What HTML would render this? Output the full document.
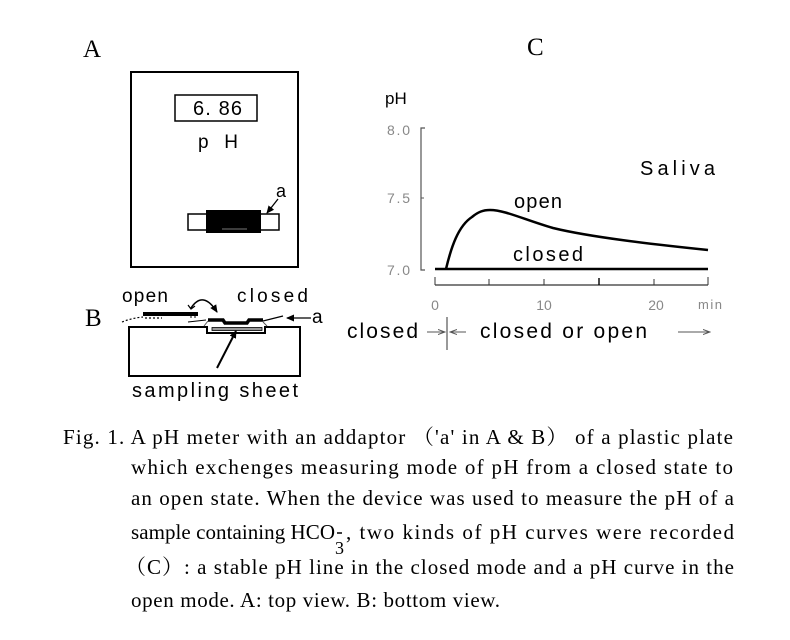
<!DOCTYPE html>
<html>
<head>
<meta charset="utf-8">
<style>
html,body{margin:0;padding:0;background:#fff;}
svg{display:block;}
.sans{font-family:"Liberation Sans","Noto Sans CJK JP",sans-serif;}
.serif{font-family:"Liberation Serif","Noto Serif CJK SC",serif;}
</style>
</head>
<body>
<svg width="790" height="640" viewBox="0 0 790 640" xmlns="http://www.w3.org/2000/svg">
<defs>
  <marker id="ah" markerWidth="8" markerHeight="8" refX="7" refY="4" orient="auto" markerUnits="userSpaceOnUse">
    <path d="M0,0.5 L8,4 L0,7.5 Z" fill="#000"/>
  </marker>
  <marker id="ahg" markerWidth="8" markerHeight="6" refX="7" refY="3" orient="auto" markerUnits="userSpaceOnUse">
    <path d="M0,0.5 L7,3 L0,5.5" fill="none" stroke="#555" stroke-width="1"/>
  </marker>
</defs>
<rect width="790" height="640" fill="#fff"/>

<!-- Panel A -->
<text x="83" y="57" class="serif" font-size="25">A</text>
<rect x="131" y="72" width="167" height="195" fill="none" stroke="#000" stroke-width="2"/>
<rect x="175" y="95" width="82" height="26" fill="none" stroke="#000" stroke-width="1.5"/>
<text x="193" y="115" class="sans" font-size="20" textLength="49" lengthAdjust="spacing">6. 86</text>
<text x="198" y="148" class="sans" font-size="19" textLength="40" lengthAdjust="spacing">p H</text>
<text x="276" y="197" class="sans" font-size="18">a</text>
<line x1="278" y1="199" x2="267" y2="213" stroke="#000" stroke-width="1.3" marker-end="url(#ah)"/>
<rect x="188" y="214" width="91" height="16" fill="#fff" stroke="#000" stroke-width="1.5"/>
<rect x="207" y="211" width="53" height="21" fill="#000" stroke="#000" stroke-width="2"/>
<line x1="222" y1="229" x2="247" y2="229" stroke="#777" stroke-width="1"/>

<!-- Panel B -->
<text x="85" y="326" class="serif" font-size="25">B</text>
<text x="122" y="302" class="sans" font-size="19" textLength="46" lengthAdjust="spacing">open</text>
<text x="237" y="302" class="sans" font-size="19" textLength="71" lengthAdjust="spacing">closed</text>
<path d="M129,327 H207 V333 H265 V327 H300 V376 H129 Z" fill="#fff" stroke="#000" stroke-width="2"/>
<rect x="212" y="327.5" width="50" height="3" fill="#999" stroke="#000" stroke-width="0.8"/>
<!-- closed adaptor -->
<path d="M204,326 L208,321" stroke="#555" stroke-width="1" fill="none"/>
<path d="M208,320 H223 L225,323 H247 L249,320 H263" stroke="#000" stroke-width="3.5" fill="none"/>
<path d="M263,322 L267,326" stroke="#555" stroke-width="1" fill="none"/>
<line x1="263" y1="321" x2="283" y2="316" stroke="#000" stroke-width="1.2"/>
<text x="312" y="323" class="sans" font-size="19">a</text>
<line x1="311" y1="318" x2="287" y2="318" stroke="#000" stroke-width="1.2" marker-end="url(#ah)"/>
<!-- open adaptor -->
<rect x="143" y="312" width="55" height="4" fill="#000"/>
<line x1="145" y1="318" x2="162" y2="318" stroke="#000" stroke-width="1.2" stroke-dasharray="2,2"/>
<path d="M122,322 Q132,318 143,317" stroke="#000" stroke-width="1.2" fill="none" stroke-dasharray="2,2"/>
<line x1="188" y1="322" x2="206" y2="320" stroke="#000" stroke-width="1"/>
<line x1="190" y1="317" x2="196" y2="317" stroke="#000" stroke-width="1" stroke-dasharray="2,2"/>
<!-- curved arrow -->
<path d="M191,308 Q203,290 217,312" stroke="#000" stroke-width="1.5" fill="none" marker-end="url(#ah)"/>
<path d="M188,305 L191,309 L195,306" stroke="#000" stroke-width="1.2" fill="none"/>
<!-- sampling sheet arrow -->
<line x1="217" y1="368" x2="236" y2="331" stroke="#000" stroke-width="2" marker-end="url(#ah)"/>
<text x="132" y="397" class="sans" font-size="20" textLength="166" lengthAdjust="spacing">sampling sheet</text>

<!-- Panel C -->
<text x="527" y="55" class="serif" font-size="25">C</text>
<text x="385" y="104" class="sans" font-size="17">pH</text>
<path d="M425,128 H421 V270 H425" fill="none" stroke="#555" stroke-width="1.2"/>
<line x1="421" y1="198" x2="424" y2="198" stroke="#555" stroke-width="1"/>
<text x="387" y="135" class="sans" font-size="14" fill="#888" textLength="23" lengthAdjust="spacing">8.0</text>
<text x="387" y="203" class="sans" font-size="14" fill="#888" textLength="23" lengthAdjust="spacing">7.5</text>
<text x="387" y="275" class="sans" font-size="14" fill="#888" textLength="23" lengthAdjust="spacing">7.0</text>
<line x1="435" y1="285" x2="708" y2="285" stroke="#333" stroke-width="1.2"/>
<g stroke="#333" stroke-width="1">
  <line x1="435" y1="277" x2="435" y2="285"/>
  <line x1="489" y1="279" x2="489" y2="285"/>
  <line x1="544" y1="279" x2="544" y2="285"/>
  <line x1="599" y1="278" x2="599" y2="285" stroke="#000" stroke-width="1.4"/>
  <line x1="654" y1="279" x2="654" y2="285"/>
  <line x1="708" y1="277" x2="708" y2="285"/>
</g>
<text x="435" y="310" class="sans" font-size="14" fill="#888" text-anchor="middle">0</text>
<text x="544" y="310" class="sans" font-size="14" fill="#888" text-anchor="middle">10</text>
<text x="656" y="310" class="sans" font-size="14" fill="#888" text-anchor="middle">20</text>
<text x="698" y="309" class="sans" font-size="13" fill="#888" textLength="24" lengthAdjust="spacing">min</text>
<line x1="435" y1="269" x2="708" y2="269" stroke="#000" stroke-width="2.5"/>
<path d="M446,269 C451,248 458,226 472,217 C478,212 483,210 490,210 C505,210 525,220 553,228 C590,237 650,244 708,250" fill="none" stroke="#000" stroke-width="2.5"/>
<text x="640" y="175" class="sans" font-size="20" textLength="75" lengthAdjust="spacing">Saliva</text>
<text x="514" y="208" class="sans" font-size="20" textLength="48" lengthAdjust="spacing">open</text>
<text x="513" y="261" class="sans" font-size="20" textLength="70" lengthAdjust="spacing">closed</text>

<!-- bottom row -->
<text x="347" y="338" class="sans" font-size="21" textLength="71" lengthAdjust="spacing">closed</text>
<line x1="427" y1="332" x2="445" y2="332" stroke="#555" stroke-width="1" marker-end="url(#ahg)"/>
<line x1="447" y1="317" x2="447" y2="350" stroke="#333" stroke-width="1"/>
<line x1="466" y1="332" x2="450" y2="332" stroke="#555" stroke-width="1" marker-end="url(#ahg)"/>
<text x="480" y="338" class="sans" font-size="21" textLength="167" lengthAdjust="spacing">closed or open</text>
<line x1="678" y1="332" x2="710" y2="332" stroke="#555" stroke-width="1" marker-end="url(#ahg)"/>

<!-- Caption -->
<g class="serif" font-size="21" fill="#000">
  <text x="63" y="444" textLength="670" lengthAdjust="spacing">Fig. 1. A pH meter with an addaptor （'a' in A &amp; B） of  a  plastic plate</text>
  <text x="131" y="474" textLength="602" lengthAdjust="spacing">which exchenges measuring mode of pH from a closed  state  to</text>
  <text x="131" y="505" textLength="603" lengthAdjust="spacing">an open state. When the device was used to measure the pH of a</text>
  <text x="131" y="539" textLength="204" lengthAdjust="spacing">sample containing HCO</text>
  <text x="335" y="554" font-size="18">3</text>
  <line x1="337" y1="533" x2="342" y2="533" stroke="#000" stroke-width="1.5"/>
  <text x="346" y="539" textLength="388" lengthAdjust="spacing">, two kinds of pH curves were recorded</text>
  <text x="125" y="574" textLength="609" lengthAdjust="spacing">（C）: a stable pH line in the closed mode and a pH curve  in the</text>
  <text x="131" y="607" textLength="369" lengthAdjust="spacing">open mode. A: top view. B: bottom view.</text>
</g>
</svg>
</body>
</html>
